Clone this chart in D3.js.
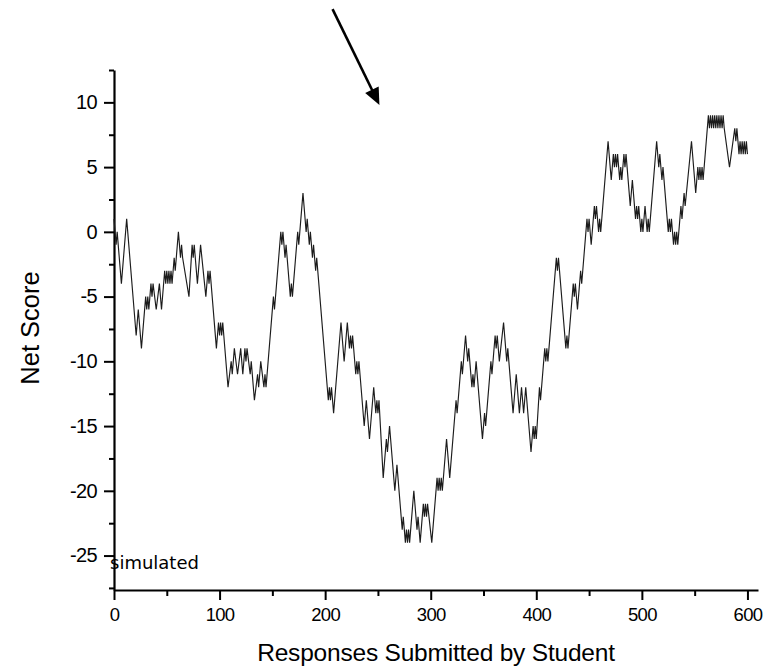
<!DOCTYPE html>
<html>
<head>
<meta charset="utf-8">
<script src="https://cdn.jsdelivr.net/npm/d3@7"></script>
<style>
  body { margin: 0; background: #fff; }
  svg text { fill: #000; }
</style>
</head>
<body>
<svg id="chart" width="765" height="670"></svg>
<script>
// Turning points of the running net score (each response moves the score by ±1,
// so the walk is a straight run between consecutive turning points).
const responseIdx = [
  0, 2, 3, 7, 12, 21, 23, 26, 30, 31, 32, 33, 35, 36, 37, 40, 43, 45, 48, 49,
  50, 51, 52, 53, 54, 55, 57, 58, 61, 63, 64, 65, 71, 74, 75, 76, 79, 82, 87, 89,
  90, 91, 97, 99, 100, 101, 102, 103, 108, 111, 112, 114, 117, 120, 122, 124, 125, 126, 129, 130,
  133, 136, 137, 139, 142, 143, 144, 151, 152, 153, 158, 159, 160, 162, 163, 167, 168, 169, 174, 175,
  176, 179, 182, 183, 185, 186, 188, 189, 191, 192, 194, 202, 203, 204, 205, 206, 208, 215, 218, 221,
  223, 224, 225, 226, 229, 230, 231, 232, 233, 237, 239, 242, 246, 248, 249, 250, 251, 255, 258, 259,
  260, 261, 266, 268, 273, 274, 276, 277, 278, 279, 280, 284, 287, 288, 290, 293, 294, 295, 296, 297,
  301, 306, 307, 308, 309, 310, 311, 315, 318, 324, 325, 326, 329, 330, 331, 333, 335, 336, 337, 339,
  340, 341, 343, 349, 351, 352, 353, 357, 358, 361, 362, 363, 365, 369, 371, 372, 373, 374, 378, 381,
  384, 386, 388, 390, 395, 397, 398, 399, 400, 403, 404, 408, 409, 410, 411, 419, 420, 421, 422, 428,
  429, 430, 435, 436, 437, 439, 442, 443, 444, 448, 449, 450, 452, 455, 456, 457, 459, 460, 461, 468,
  471, 473, 474, 475, 476, 477, 479, 480, 481, 483, 484, 485, 489, 491, 494, 495, 496, 497, 499, 500,
  501, 503, 505, 506, 507, 514, 516, 517, 519, 520, 525, 526, 527, 528, 530, 531, 532, 533, 534, 537,
  538, 540, 541, 547, 551, 553, 554, 555, 556, 557, 558, 563, 564, 565, 566, 567, 568, 569, 570, 571,
  572, 573, 574, 575, 576, 577, 578, 583, 588, 589, 590, 592, 593, 594, 595, 596, 597, 598, 599, 600
];
const netScore = [
  1, -1, 0, -4, 1, -8, -6, -9, -5, -6, -5, -6, -4, -5, -4, -6, -4, -6, -3, -4,
  -3, -4, -3, -4, -3, -4, -2, -3, 0, -2, -1, -2, -5, -1, -2, -1, -4, -1, -5, -3,
  -4, -3, -9, -7, -8, -7, -8, -7, -12, -10, -11, -9, -11, -9, -11, -9, -10, -9, -11, -10,
  -13, -11, -12, -10, -12, -11, -12, -5, -6, -5, 0, -1, 0, -2, -1, -5, -4, -5, 0, -1,
  0, 3, 0, 1, -1, 0, -2, -1, -3, -2, -4, -12, -13, -12, -13, -12, -14, -7, -10, -7,
  -9, -8, -9, -8, -11, -10, -11, -10, -11, -15, -13, -16, -12, -14, -13, -14, -13, -19, -16, -17,
  -16, -15, -20, -18, -23, -22, -24, -23, -24, -23, -24, -20, -23, -22, -24, -21, -22, -21, -22, -21,
  -24, -19, -20, -19, -20, -19, -20, -16, -19, -13, -14, -13, -10, -11, -10, -8, -10, -9, -10, -12,
  -11, -12, -10, -16, -14, -15, -14, -10, -11, -8, -9, -8, -10, -7, -9, -10, -9, -10, -14, -11,
  -14, -12, -14, -12, -17, -15, -16, -15, -16, -12, -13, -9, -10, -9, -10, -2, -3, -2, -3, -9,
  -8, -9, -4, -5, -4, -6, -3, -4, -3, 1, 0, 1, -1, 2, 1, 2, 0, 1, 0, 7,
  4, 6, 5, 6, 5, 6, 4, 5, 4, 6, 5, 6, 2, 4, 1, 2, 1, 2, 0, 1,
  0, 2, 0, 1, 0, 7, 5, 6, 4, 5, 0, 1, 0, 1, -1, 0, -1, 0, -1, 2,
  1, 3, 2, 7, 3, 5, 4, 5, 4, 5, 4, 9, 8, 9, 8, 9, 8, 9, 8, 9,
  8, 9, 8, 9, 8, 9, 8, 5, 8, 7, 8, 6, 7, 6, 7, 6, 7, 6, 7, 6
];

// Axis ticks
const xMajorTicks = [0, 100, 200, 300, 400, 500, 600];
const xMinorTicks = [50, 150, 250, 350, 450, 550];
const yMajorTicks = [-25, -20, -15, -10, -5, 0, 5, 10];
const yMinorTicks = [-27.5, -22.5, -17.5, -12.5, -7.5, -2.5, 2.5, 7.5, 12.5];

// Texts
const xTitle = "Responses Submitted by Student";
const yTitle = "Net Score";
const noteText = "simulated";

// Annotation arrow, in data units (tail above the plot area, head pointing down)
const arrowTail = [207, 17.2];
const arrowHead = [251.4, 9.8];

const svg = d3.select("#chart");
const FONT = "'Liberation Sans', Arial, Helvetica, sans-serif";
const plainNumber = d => String(d);   // ASCII hyphen for negatives

const x = d3.scaleLinear().domain([0, 610]).range([114, 758]);
const y = d3.scaleLinear().domain([-27.66, 12.5]).range([590, 70]);

// --- Y axis: major ticks with labels, minor ticks without
const yAxisG = svg.append("g").attr("transform", `translate(${x(0)},0)`);
yAxisG.append("g")
  .call(d3.axisLeft(y).tickValues(yMinorTicks).tickSize(5).tickSizeOuter(0).tickFormat(""))
  .call(g => g.select(".domain").remove());
yAxisG.append("g")
  .attr("class", "y-major")
  .call(d3.axisLeft(y).tickValues(yMajorTicks).tickSize(10).tickSizeOuter(0)
          .tickPadding(7).tickFormat(plainNumber))
  .call(g => g.select(".domain").attr("stroke-width", 2.2));

// --- X axis
const xAxisG = svg.append("g").attr("transform", `translate(0,${y.range()[0]})`);
xAxisG.append("g")
  .call(d3.axisBottom(x).tickValues(xMinorTicks).tickSize(6).tickSizeOuter(0).tickFormat(""))
  .call(g => g.select(".domain").remove());
xAxisG.append("g")
  .attr("class", "x-major")
  .call(d3.axisBottom(x).tickValues(xMajorTicks).tickSize(10).tickSizeOuter(0)
          .tickPadding(8).tickFormat(plainNumber))
  .call(g => g.select(".domain").attr("stroke-width", 2.2));

svg.selectAll(".tick line").attr("stroke", "#000").attr("stroke-width", 2);
svg.selectAll(".domain").attr("stroke", "#000");
svg.selectAll(".tick text")
  .attr("font-family", FONT)
  .attr("fill", "#000");
svg.selectAll(".x-major .tick text")
  .attr("font-size", 18.5)
  .attr("letter-spacing", "-0.7px");
svg.selectAll(".y-major .tick text")
  .attr("font-size", 20)
  .attr("letter-spacing", "-0.6px");

// --- Net score line
const pts = responseIdx.map((d, i) => [d, netScore[i]]);
svg.append("path")
  .datum(pts)
  .attr("fill", "none")
  .attr("stroke", "#1c1c1c")
  .attr("stroke-width", 1.15)
  .attr("stroke-linejoin", "miter")
  .attr("d", d3.line().x(d => x(d[0])).y(d => y(d[1])));

// --- Axis titles
svg.append("text")
  .attr("x", (x.range()[0] + x.range()[1]) / 2)
  .attr("y", 661)
  .attr("text-anchor", "middle")
  .attr("font-family", FONT)
  .attr("font-size", 24.5)
  .attr("letter-spacing", "-0.2px")
  .text(xTitle);

svg.append("text")
  .attr("transform", `translate(39,${(y.range()[0] + y.range()[1]) / 2 - 2}) rotate(-90)`)
  .attr("text-anchor", "middle")
  .attr("font-family", FONT)
  .attr("font-size", 25.5)
  .text(yTitle);

// --- Note in the lower-left corner of the plot
svg.append("text")
  .attr("x", x(0) - 4)
  .attr("y", 569)
  .attr("font-family", "'DejaVu Sans', sans-serif")
  .attr("font-size", 18)
  .text(noteText);

// --- Annotation arrow
const tx = x(arrowTail[0]), ty = y(arrowTail[1]);
const hx = x(arrowHead[0]), hy = y(arrowHead[1]);
const ang = Math.atan2(hy - ty, hx - tx);
const headLen = 17, headHalf = 7.5;
const bx = hx - headLen * Math.cos(ang), by = hy - headLen * Math.sin(ang);
svg.append("line")
  .attr("x1", tx).attr("y1", ty)
  .attr("x2", bx + 2 * Math.cos(ang)).attr("y2", by + 2 * Math.sin(ang))
  .attr("stroke", "#000").attr("stroke-width", 2.6);
svg.append("path")
  .attr("d", `M${hx},${hy}L${bx - headHalf * Math.sin(ang)},${by + headHalf * Math.cos(ang)}` +
             `L${bx + headHalf * Math.sin(ang)},${by - headHalf * Math.cos(ang)}Z`)
  .attr("fill", "#000");
</script>
</body>
</html>
